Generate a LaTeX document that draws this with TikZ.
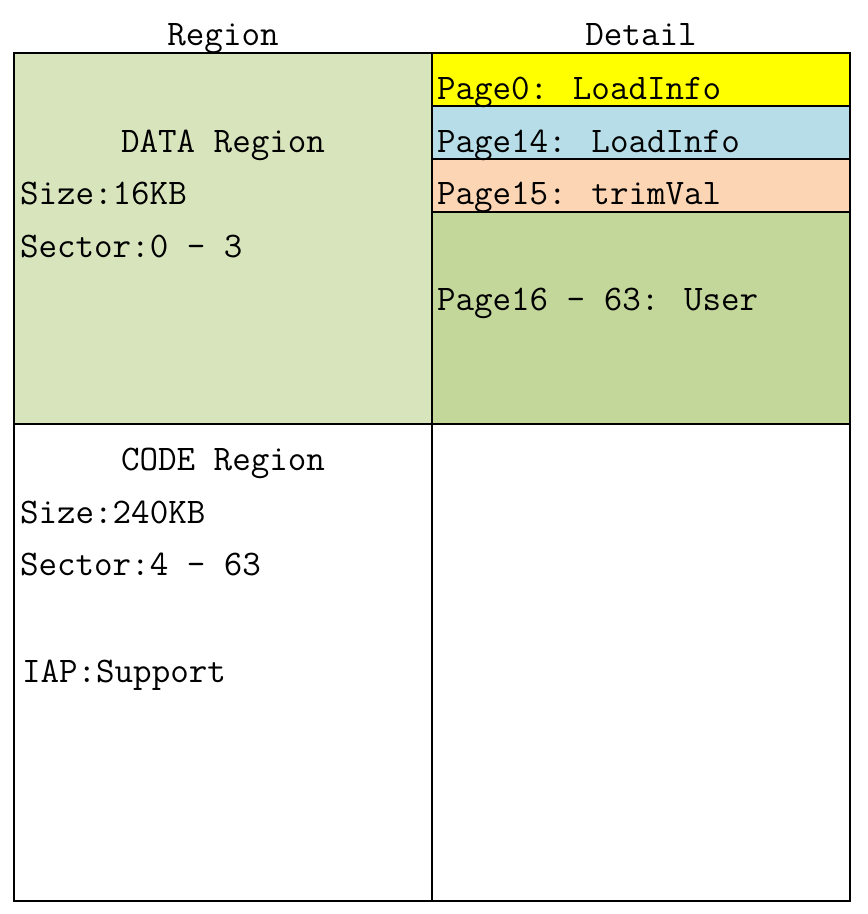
\documentclass[tikz,border=0pt]{standalone}
\definecolor{datagreen}{HTML}{D8E4BC}
\definecolor{pageyellow}{HTML}{FFFF00}
\definecolor{pageblue}{HTML}{B7DEE8}
\definecolor{pagepeach}{HTML}{FCD5B4}
\definecolor{usergreen}{HTML}{C4D79B}
\tikzset{
  txt/.style={inner sep=0,outer sep=0,font=\ttfamily\fontsize{36}{40}\selectfont},
  head/.style={txt,anchor=base},
  item/.style={txt,anchor=base west},
  grid/.style={line width=2pt}
}
\begin{document}
\begin{tikzpicture}[x=1pt,y=-1pt]
	\useasboundingbox (0,0) rectangle (868,914);
	% cell fills
	\fill[datagreen] (14,53) rectangle (432,424);
	\fill[pageyellow] (432,53) rectangle (850,106);
	\fill[pageblue] (432,106) rectangle (850,159);
	\fill[pagepeach] (432,159) rectangle (850,212);
	\fill[usergreen] (432,212) rectangle (850,424);
	% grid lines
	\draw[grid] (14,53) rectangle (850,901);
	\draw[grid] (432,53) -- (432,901);
	\draw[grid] (14,424) -- (850,424);
	\foreach \y in {106,159,212}
		\draw[grid] (432,\y) -- (850,\y);
	% headers
	\node [head] (reg) at (223,45) {Region};
	\node [head] (det) at (641,45) {Detail};
	% data region
	\node [head] (data) at (223,152) {DATA Region};
	\node [item] (dsize) at (20,204) {Size:16KB};
	\node [item] (dsec) at (20,257) {Sector:0 - 3};
	% pages
	\node [item] (p0) at (437,99) {Page0: LoadInfo};
	\node [item] (p14) at (437,152) {Page14: LoadInfo};
	\node [item] (p15) at (437,204) {Page15: trimVal};
	\node [item] (p16) at (437,310) {Page16 - 63: User};
	% code region
	\node [head] (code) at (223,470) {CODE Region};
	\node [item] (csize) at (20,523) {Size:240KB};
	\node [item] (csec) at (20,575) {Sector:4 - 63};
	\node [item] (iap) at (22,682) {IAP:Support};
\end{tikzpicture}
\end{document}
